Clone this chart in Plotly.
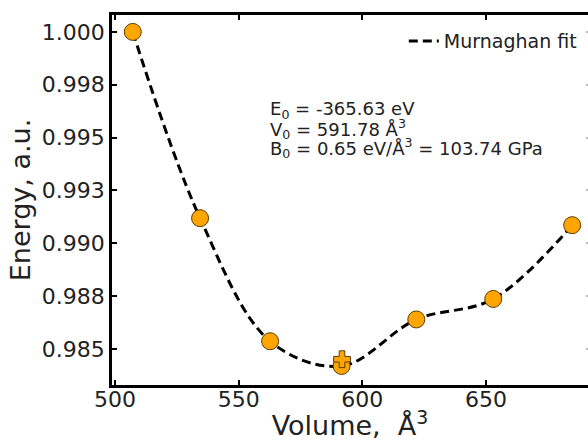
import plotly.graph_objects as go

# Normalised total energy vs. cell volume
volumes = [507.2, 534.4, 562.7, 591.6, 621.8, 652.9, 684.8]
energies = [1.0000, 0.99119, 0.98537, 0.98420, 0.98640, 0.98737, 0.99086]

# Equilibrium point from the fit
v0_point = [591.78]
e0_point = [0.98452]

x_ticks = [500, 550, 600, 650]
y_ticks = [0.985, 0.9875, 0.99, 0.9925, 0.995, 0.9975, 1.0]
y_ticktext = ["0.985", "0.988", "0.990", "0.993", "0.995", "0.998", "1.000"]

fit_lines = [
    "E<sub>0</sub> = -365.63 eV",
    "V<sub>0</sub> = 591.78 Å<sup>3</sup>",
    "B<sub>0</sub> = 0.65 eV/Å<sup>3</sup> = 103.74 GPa",
]

FONT = "DejaVu Sans"
ORANGE = "#FFA500"
EDGE = "#5a3c00"

fig = go.Figure()

fig.add_trace(go.Scatter(
    x=volumes, y=energies, mode="lines", name="Murnaghan fit",
    line=dict(color="black", width=3, dash="9px,5px", shape="spline"),
))
fig.add_trace(go.Scatter(
    x=volumes, y=energies, mode="markers", showlegend=False,
    marker=dict(symbol="circle", size=17, color=ORANGE,
                line=dict(color=EDGE, width=1)),
))
fig.add_trace(go.Scatter(
    x=v0_point, y=e0_point, mode="markers", showlegend=False,
    marker=dict(symbol="cross", size=14, color=ORANGE,
                line=dict(color=EDGE, width=1)),
))
# invisible trace carrying the right-hand tick marks
fig.add_trace(go.Scatter(
    x=[volumes[0]], y=[energies[0]], yaxis="y2", mode="markers",
    marker=dict(opacity=0), showlegend=False, hoverinfo="skip",
))

axis_common = dict(
    showgrid=False, zeroline=False,
    ticks="inside", ticklen=5, tickwidth=2, tickcolor="black",
    tickfont=dict(family=FONT, size=22, color="#222"),
)

# fit parameters, one annotation per line for tight spacing
line_y = [0.7432, 0.6919, 0.6405]
annotations = [
    dict(x=0.3277, y=yy, xref="paper", yref="paper",
         xanchor="left", yanchor="middle", text=t, showarrow=False,
         font=dict(family=FONT, size=18, color="#222"))
    for t, yy in zip(fit_lines, line_y)
]

fig.update_layout(
    width=588, height=441,
    margin=dict(l=112, r=0, t=15, b=56),
    paper_bgcolor="white", plot_bgcolor="white",
    font=dict(family=FONT, color="#222"),
    xaxis=dict(
        range=[498.8, 691.2], tickvals=x_ticks,
        showline=True, linecolor="black", linewidth=2.5, mirror="ticks",
        ticklabelstandoff=-7,
        title=dict(text="Volume,  Å<sup>3</sup>",
                   font=dict(family=FONT, size=27, color="#222"), standoff=2),
        **axis_common,
    ),
    yaxis=dict(
        range=[0.9833, 1.0008], tickvals=y_ticks, ticktext=y_ticktext,
        showline=True, linecolor="black", linewidth=2.5, mirror=False,
        title=dict(text="Energy, a.u.",
                   font=dict(family=FONT, size=27, color="#222"), standoff=4),
        **axis_common,
    ),
    yaxis2=dict(
        overlaying="y", side="right", range=[0.9833, 1.0008],
        tickvals=y_ticks, showticklabels=False, showline=False,
        showgrid=False, zeroline=False,
        ticks="inside", ticklen=2, tickwidth=2, tickcolor="#bbbbbb",
    ),
    legend=dict(
        x=0.987, xanchor="right", y=0.981, yanchor="top",
        bgcolor="rgba(255,255,255,0.8)",
        font=dict(family=FONT, size=19, color="#222"),
    ),
    annotations=annotations,
)

fig.write_html("out.html")
